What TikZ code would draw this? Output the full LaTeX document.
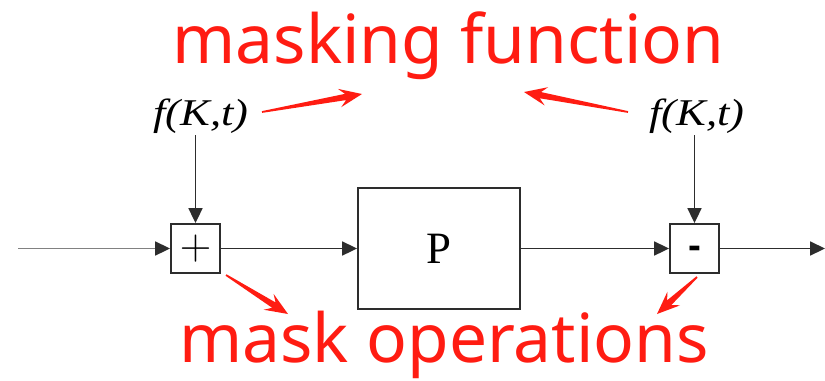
\documentclass[tikz,border=0pt]{standalone}
\usepackage{fontspec}
\usepackage{tikz}
\usetikzlibrary{arrows.meta,calc}
\setmainfont{Liberation Serif}
\newfontfamily\notefont{Noto Sans}
\newfontfamily\signfont{Liberation Sans}
\definecolor{maskred}{RGB}{255,28,18}
\definecolor{wire}{RGB}{45,45,45}

% tapered red pointer from #1 (tail) to #2 (tip)
\newcommand{\maskarrow}[2]{%
  \coordinate (hb) at ($(#2)!13pt!(#1)$);
  \coordinate (hn) at ($(#2)!9.5pt!(#1)$);
  \fill[maskred] ($(#1)!0.5pt!90:(#2)$) -- ($(hn)!1.8pt!90:(#2)$) -- ($(hb)!5.3pt!90:(#2)$)
    -- (#2) -- ($(hb)!5.3pt!-90:(#2)$) -- ($(hn)!1.8pt!-90:(#2)$) -- ($(#1)!0.5pt!-90:(#2)$) -- cycle;
}

\begin{document}
\begin{tikzpicture}[x=0.02cm,y=-0.02cm,
  opbox/.style={draw=wire,line width=1.1pt,minimum size=0.98cm,inner sep=0pt},
  wireline/.style={draw=wire,line width=0.9pt,-{Triangle[length=8.5pt,width=8pt,color=wire]}},
  fktext/.style={anchor=base,inner sep=1pt,font=\fontsize{21.5}{24}\selectfont\itshape},
  note/.style={anchor=base,text=maskred,inner sep=0pt,font=\notefont\fontsize{38.5}{44}\selectfont}]
\useasboundingbox (0,0) rectangle (825,380);

% Blocks
\node[opbox,font=\fontsize{28}{30}\selectfont] (plus) at (195.5,248.5) {$+$};
\node[draw=wire,line width=1.1pt,minimum width=3.24cm,minimum height=2.42cm,
  font=\fontsize{25.5}{30}\selectfont] (plant) at (439,248.5) {P};
\node[opbox,text height=10pt,text depth=10pt,
  font=\signfont\bfseries\fontsize{22}{24}\selectfont] (minus) at (694.5,248.5) {\raisebox{-5.5pt}{-}};

% Masking inputs
\node[fktext] (fkl) at (201,125) {\scalebox{1.18}[1]{f(K,t)}};
\node[fktext] (fkr) at (697,125) {\scalebox{1.18}[1]{f(K,t)}};

% Signal path
\coordinate (in) at (18,248.5);
\coordinate (out) at (825,248.5);
\draw[wireline,draw=wire!60] (in) -- (plus);
\draw[wireline] (plus) -- (plant);
\draw[wireline] (plant) -- (minus);
\draw[wireline] (minus) -- (out);
\draw[wireline] (plus.north |- fkl.south) -- (plus.north);
\draw[wireline] (minus.north |- fkr.south) -- (minus.north);

% Annotations
\node[note] (maskfn) at (448.5,63) {masking function};
\node[note] (maskop) at (444,362) {mask operations};
\coordinate (t1) at (262,112); \coordinate (p1) at (362,94);
\coordinate (t2) at (628,112); \coordinate (p2) at (524,92);
\coordinate (t3) at (226,275); \coordinate (p3) at (288,314);
\coordinate (t4) at (697,277); \coordinate (p4) at (657,314);
\maskarrow{t1}{p1}
\maskarrow{t2}{p2}
\maskarrow{t3}{p3}
\maskarrow{t4}{p4}
\end{tikzpicture}
\end{document}
